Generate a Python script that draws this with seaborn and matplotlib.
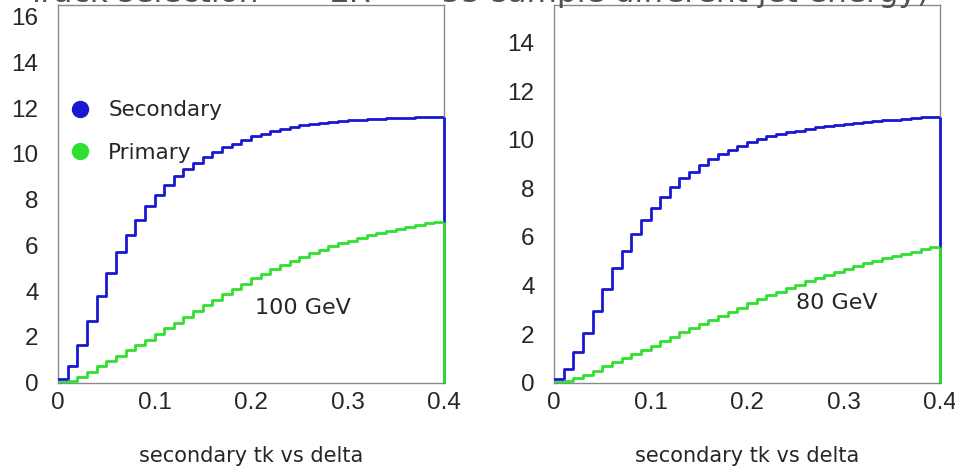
import numpy as np
import pandas as pd
import matplotlib
matplotlib.use("Agg")
import matplotlib.pyplot as plt
from matplotlib.ticker import MultipleLocator, FuncFormatter
from matplotlib.lines import Line2D
import seaborn as sns

# ---------------- data ----------------
bin_edges = np.round(np.arange(41) * 0.01, 4)   # 40 bins, 0 .. 0.4

secondary_100 = [0.15, 0.74, 1.65, 2.71, 3.79, 4.78, 5.70, 6.43, 7.11, 7.70,
                 8.19, 8.63, 9.01, 9.33, 9.62, 9.85, 10.07, 10.28, 10.45, 10.61,
                 10.76, 10.89, 11.00, 11.10, 11.17, 11.24, 11.30, 11.35, 11.40, 11.44,
                 11.47, 11.50, 11.52, 11.54, 11.56, 11.57, 11.58, 11.59, 11.60, 11.60]
primary_100 = [0.02, 0.08, 0.25, 0.47, 0.70, 0.93, 1.16, 1.40, 1.64, 1.88,
               2.12, 2.37, 2.62, 2.87, 3.12, 3.37, 3.61, 3.85, 4.09, 4.32,
               4.55, 4.76, 4.96, 5.15, 5.33, 5.50, 5.66, 5.81, 5.95, 6.08,
               6.20, 6.32, 6.43, 6.53, 6.63, 6.72, 6.81, 6.89, 6.97, 7.04]

secondary_80 = [0.14, 0.56, 1.28, 2.06, 2.95, 3.84, 4.71, 5.44, 6.12, 6.70,
                7.18, 7.66, 8.07, 8.41, 8.69, 8.96, 9.20, 9.42, 9.59, 9.76,
                9.91, 10.03, 10.14, 10.23, 10.31, 10.38, 10.45, 10.51, 10.56, 10.61,
                10.65, 10.69, 10.73, 10.77, 10.80, 10.83, 10.86, 10.89, 10.92, 10.95]
primary_80 = [0.02, 0.06, 0.18, 0.33, 0.50, 0.67, 0.84, 1.01, 1.18, 1.35,
              1.53, 1.71, 1.89, 2.07, 2.25, 2.42, 2.59, 2.76, 2.92, 3.08,
              3.28, 3.44, 3.60, 3.75, 3.90, 4.04, 4.18, 4.31, 4.44, 4.56,
              4.68, 4.80, 4.91, 5.02, 5.12, 5.22, 5.31, 5.40, 5.49, 5.57]

series_names = ["Secondary", "Primary"]
energy_labels = ["100 GeV", "80 GeV"]
x_ticks = [0, 0.1, 0.2, 0.3, 0.4]
x_label = "secondary tk vs delta"
title_text = "Track selection  \u2014  \u03a3R  \u2014  55 sample different jet energy)"

# ---------------- style ----------------
sns.set_style("white")
plt.rcParams["font.family"] = ["Liberation Sans", "DejaVu Sans"]

BLUE = "#1818d0"
GREEN = "#30e030"
FRAME = "#8a8a8a"
TEXT = "#262626"
ROUND_FONT = ["DejaVu Sans"]

fig = plt.figure(figsize=(9.55, 4.72), dpi=100)
W, H = 955, 472
ax1 = fig.add_axes([58 / W, 1 - 382.5 / H, 386 / W, 377.5 / H])
ax2 = fig.add_axes([554 / W, 1 - 382.7 / H, 386 / W, 377.7 / H])

centers = (bin_edges[:-1] + bin_edges[1:]) / 2
n_bins = len(centers)

panels = [
    (ax1, secondary_100, primary_100, 16.51, energy_labels[0], (0.635, 0.197)),
    (ax2, secondary_80, primary_80, 15.55, energy_labels[1], (0.733, 0.211)),
]

for ax, sec, prim, ymax, elab, epos in panels:
    for name, vals, col, z in zip(series_names, [sec, prim], [BLUE, GREEN], [4, 5]):
        sub = pd.DataFrame({"x": centers, "w": vals})
        sns.histplot(data=sub, x="x", weights="w", bins=n_bins,
                     binrange=(bin_edges[0], bin_edges[-1]),
                     element="step", fill=False, color=col, linewidth=2.0,
                     ax=ax, zorder=z)
        ax.vlines(bin_edges[-1], 0, vals[-1], color=col, linewidth=2.0,
                  zorder=z, clip_on=False)

    ax.set_xlim(0, 0.4)
    ax.set_ylim(0, ymax)
    ax.set_ylabel("")
    ax.set_xlabel(x_label, fontsize=15, family=ROUND_FONT, color=TEXT)
    ax.xaxis.set_label_coords(0.5, -0.168)
    ax.set_xticks(x_ticks)
    ax.xaxis.set_major_formatter(FuncFormatter(lambda v, p: f"{v:g}"))
    ax.xaxis.set_minor_locator(MultipleLocator(0.02))
    ax.yaxis.set_major_locator(MultipleLocator(2))
    ax.yaxis.set_minor_locator(MultipleLocator(0.5))
    ax.tick_params(axis="both", which="both", direction="in", colors="#555555",
                   labelcolor=TEXT, labelsize=17.5, width=1.0)
    ax.tick_params(axis="y", which="major", length=13, pad=14)
    ax.tick_params(axis="y", which="minor", length=6)
    ax.tick_params(axis="x", which="major", length=10, pad=7)
    ax.tick_params(axis="x", which="minor", length=5)
    for sp in ax.spines.values():
        sp.set_color(FRAME)
        sp.set_linewidth(1.0)
    ax.text(epos[0], epos[1], elab, transform=ax.transAxes, ha="center",
            va="center", fontsize=16, family=ROUND_FONT, color=TEXT)

handles = [Line2D([], [], marker="o", ls="", ms=11.5, color=c, mec=c)
           for c in [BLUE, GREEN]]
ax1.legend(handles, series_names, loc="center left",
           bbox_to_anchor=(0.030, 0.665), frameon=False, borderpad=0,
           borderaxespad=0, handlelength=1.0, handletextpad=0.8,
           labelspacing=1.05, prop={"family": ROUND_FONT, "size": 15.5},
           labelcolor=TEXT)

fig.text(0.5, 1 - 1.5 / H, title_text, ha="center", va="baseline",
         fontsize=22.5, family=ROUND_FONT, color="#505050")

fig.savefig("out.png", dpi=100)
